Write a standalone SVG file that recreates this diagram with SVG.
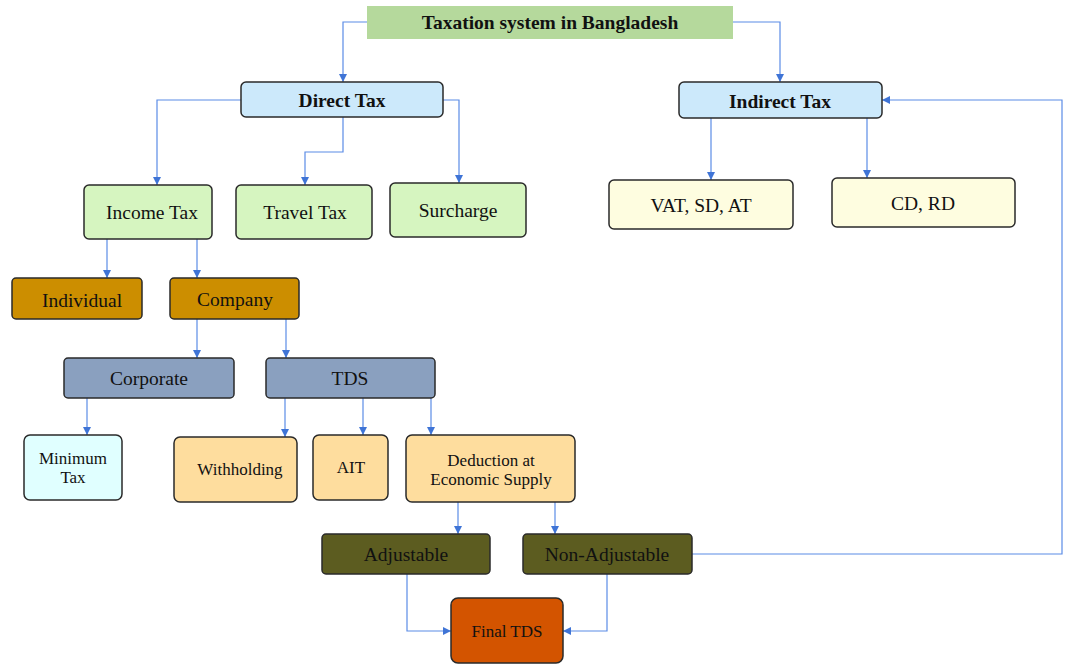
<svg xmlns="http://www.w3.org/2000/svg" width="1070" height="664" viewBox="0 0 1070 664">
<defs>
<marker id="ah" viewBox="0 0 10 10" refX="10" refY="5" markerWidth="8" markerHeight="8" markerUnits="userSpaceOnUse" orient="auto">
<path d="M0,0 L10,5 L0,10 z" fill="#3f74d6"/>
</marker>
<style>
.n{stroke:#2a2a2a;stroke-width:1.5}
.t{font-family:"Liberation Serif","Times New Roman",serif;fill:#111;text-anchor:middle;dominant-baseline:central}
.b{font-weight:bold}
.c{fill:none;stroke:#5b8ce6;stroke-width:1.2;marker-end:url(#ah)}
</style>
</defs>
<rect width="1070" height="664" fill="#fff"/>
<g id="connectors">
<path class="c" d="M367,22 H343 V82"/>
<path class="c" d="M733,22 H780 V82"/>
<path class="c" d="M241,100 H157 V185"/>
<path class="c" d="M343,117 V152 H305 V185"/>
<path class="c" d="M443,100 H459 V183"/>
<path class="c" d="M107,239 V278"/>
<path class="c" d="M197,239 V278"/>
<path class="c" d="M197,319 V358"/>
<path class="c" d="M286,319 V358"/>
<path class="c" d="M87,398 V435"/>
<path class="c" d="M285,398 V437"/>
<path class="c" d="M363,398 V435"/>
<path class="c" d="M431,398 V435"/>
<path class="c" d="M458,502 V534"/>
<path class="c" d="M555,502 V534"/>
<path class="c" d="M407,574 V631 H451"/>
<path class="c" d="M607,574 V631 H563"/>
<path class="c" d="M692,554 H1062 V100 H882"/>
<path class="c" d="M711,118 V180"/>
<path class="c" d="M867,118 V178"/>
</g>
<g id="title"><rect x="367" y="6" width="366" height="33" fill="#b5d99c"/><text class="t b" x="550" y="22" font-size="19.5">Taxation system in Bangladesh</text></g>
<g id="direct"><rect class="n" x="241" y="82" width="202" height="35" rx="5" fill="#cce9fb" stroke="#1f2d4a"/><text class="t b" x="342" y="100" font-size="19.5">Direct Tax</text></g>
<g id="indirect"><rect class="n" x="679" y="82" width="203" height="36" rx="5" fill="#cce9fb" stroke="#1f2d4a"/><text class="t b" x="780" y="101" font-size="19.5">Indirect Tax</text></g>
<g id="income"><rect class="n" x="84" y="185" width="128" height="54" rx="5" fill="#d6f5c0"/><text class="t" x="152" y="212" font-size="19.5">Income Tax</text></g>
<g id="travel"><rect class="n" x="236" y="185" width="136" height="54" rx="5" fill="#d6f5c0"/><text class="t" x="305" y="212" font-size="19.5">Travel Tax</text></g>
<g id="surcharge"><rect class="n" x="390" y="183" width="136" height="54" rx="5" fill="#d6f5c0"/><text class="t" x="458" y="210" font-size="19.5">Surcharge</text></g>
<g id="vat"><rect class="n" x="609" y="180" width="184" height="49" rx="5" fill="#fefde0"/><text class="t" x="701" y="205" font-size="19.5">VAT, SD, AT</text></g>
<g id="cdrd"><rect class="n" x="832" y="178" width="183" height="49" rx="5" fill="#fefde0"/><text class="t" x="923" y="203" font-size="19.5">CD, RD</text></g>
<g id="individual"><rect class="n" x="12" y="278" width="130" height="41" rx="4" fill="#cc8e00"/><text class="t" x="82" y="300" font-size="19.5">Individual</text></g>
<g id="company"><rect class="n" x="170" y="278" width="129" height="41" rx="4" fill="#cc8e00"/><text class="t" x="235" y="299" font-size="19.5">Company</text></g>
<g id="corporate"><rect class="n" x="64" y="358" width="170" height="40" rx="4" fill="#8aa0bf"/><text class="t" x="149" y="378" font-size="19.5">Corporate</text></g>
<g id="tds"><rect class="n" x="266" y="358" width="169" height="40" rx="4" fill="#8aa0bf"/><text class="t" x="350" y="378" font-size="19.5">TDS</text></g>
<g id="mintax"><rect class="n" x="24" y="435" width="98" height="65" rx="6" fill="#e0ffff"/><text class="t" x="73" y="458" font-size="17">Minimum</text><text class="t" x="73" y="477" font-size="17">Tax</text></g>
<g id="withholding"><rect class="n" x="174" y="437" width="123" height="65" rx="6" fill="#fedd9e"/><text class="t" x="240" y="469" font-size="17">Withholding</text></g>
<g id="ait"><rect class="n" x="313" y="435" width="75" height="65" rx="6" fill="#fedd9e"/><text class="t" x="351" y="467" font-size="17">AIT</text></g>
<g id="deduction"><rect class="n" x="406" y="435" width="169" height="67" rx="6" fill="#fedd9e"/><text class="t" x="491" y="460" font-size="17">Deduction at</text><text class="t" x="491" y="479" font-size="17">Economic Supply</text></g>
<g id="adjustable"><rect class="n" x="322" y="534" width="168" height="40" rx="4" fill="#5c5c20"/><text class="t" x="406" y="554" font-size="19.5">Adjustable</text></g>
<g id="nonadjustable"><rect class="n" x="523" y="534" width="169" height="40" rx="4" fill="#5c5c20"/><text class="t" x="607" y="554" font-size="19.5">Non-Adjustable</text></g>
<g id="finaltds"><rect class="n" x="451" y="598" width="112" height="65" rx="7" fill="#d35400"/><text class="t" x="507" y="631" font-size="17">Final TDS</text></g>
</svg>
